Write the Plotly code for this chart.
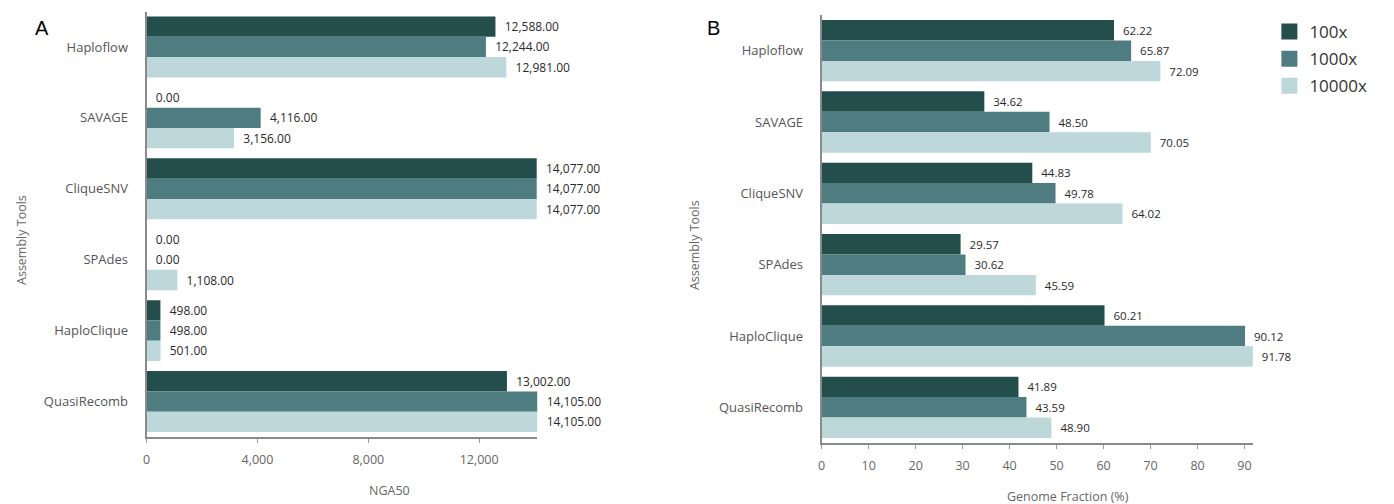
import plotly.graph_objects as go

tools = ["Haploflow", "SAVAGE", "CliqueSNV", "SPAdes", "HaploClique", "QuasiRecomb"]
series_names = ["100x", "1000x", "10000x"]
colors = ["#234e4b", "#4f7c80", "#bdd7db"]

nga50_100x = [12588, 0, 14077, 0, 498, 13002]
nga50_1000x = [12244, 4116, 14077, 0, 498, 14105]
nga50_10000x = [12981, 3156, 14077, 1108, 501, 14105]

gf_100x = [62.22, 34.62, 44.83, 29.57, 60.21, 41.89]
gf_1000x = [65.87, 48.50, 49.78, 30.62, 90.12, 43.59]
gf_10000x = [72.09, 70.05, 64.02, 45.59, 91.78, 48.90]

nga50_ticks = [0, 4000, 8000, 12000]
gf_ticks = [0, 10, 20, 30, 40, 50, 60, 70, 80, 90]

W, H = 1394, 504
OFF = 8  # page body margin
FONT = "Open Sans"
pad = "\u00a0\u00a0"

fig = go.Figure()

for name, col, vals in zip(series_names, colors, [nga50_100x, nga50_1000x, nga50_10000x]):
    fig.add_trace(go.Bar(
        y=tools, x=vals, orientation="h", name=name,
        marker=dict(color=col, line=dict(width=0)),
        texttemplate=pad + "%{x:,.2f}", textposition="outside",
        textfont=dict(size=12, color="#2a2a2a", family=FONT),
        cliponaxis=False, showlegend=False,
        xaxis="x", yaxis="y",
    ))

for name, col, vals in zip(series_names, colors, [gf_100x, gf_1000x, gf_10000x]):
    fig.add_trace(go.Bar(
        y=tools, x=vals, orientation="h", name=name,
        marker=dict(color=col, line=dict(width=0)),
        texttemplate=pad + "%{x:.2f}", textposition="outside",
        textfont=dict(size=11.5, color="#2a2a2a", family=FONT),
        cliponaxis=False, showlegend=False,
        xaxis="x2", yaxis="y2",
    ))

# legend entries
for name, col in zip(series_names, colors):
    fig.add_trace(go.Scatter(
        x=[None], y=[None], mode="markers", name=name, legendgroup=name,
        marker=dict(symbol="square", size=20, color=col),
        xaxis="x2", yaxis="y2", showlegend=True,
    ))

def px_x(p):
    return (p - OFF) / W

def px_y(p):
    return 1 - (p - OFF) / H

axis_common = dict(
    showline=True, linecolor="#8a8a8a", linewidth=2, showgrid=False, zeroline=False,
    ticks="outside", ticklen=4, tickcolor="#9a9a9a", ticklabelstandoff=6,
    tickfont=dict(size=12.5, color="#666666", family=FONT),
)
yaxis_common = dict(
    showline=True, linecolor="#8a8a8a", linewidth=2, showgrid=False, zeroline=False,
    ticks="", autorange="reversed", ticklabelstandoff=14,
    tickfont=dict(size=13, color="#555555", family=FONT),
)

fig.update_layout(
    width=W, height=H,
    margin=dict(l=0, r=0, t=0, b=0),
    paper_bgcolor="white", plot_bgcolor="white",
    barmode="group", bargap=0.14, bargroupgap=0,
    font=dict(family=FONT),
    xaxis=dict(domain=[px_x(143), px_x(535)], range=[0, 14105], tickvals=nga50_ticks,
               tickformat=",", anchor="y", **axis_common),
    yaxis=dict(domain=[px_y(437), px_y(11.5)], anchor="x", **yaxis_common),
    xaxis2=dict(domain=[px_x(820), px_x(1253)], range=[0, 91.9], tickvals=gf_ticks,
                anchor="y2", **axis_common),
    yaxis2=dict(domain=[px_y(443), px_y(15)], anchor="x2", **yaxis_common),
    legend=dict(x=px_x(1269), y=px_y(14), xanchor="left", yanchor="top",
                font=dict(size=17, color="#333333", family=FONT),
                tracegroupgap=2, itemsizing="trace", bgcolor="rgba(0,0,0,0)"),
)

def annot(text, x, y, size, color, family, angle=0):
    return dict(text=text, x=px_x(x), y=px_y(y), xref="paper", yref="paper",
                xanchor="center", yanchor="middle", textangle=angle,
                showarrow=False, font=dict(size=size, color=color, family=family))

ann = [
    annot("A", 38, 28, 20, "black", "Liberation Sans"),
    annot("B", 712, 28, 20, "black", "Liberation Sans"),
    annot("Assembly Tools", 18, 240, 12.5, "#666666", FONT, -90),
    annot("Assembly Tools", 692, 245, 12.5, "#666666", FONT, -90),
    annot("NGA50", 387, 490, 12.5, "#666666", FONT),
    annot("Genome Fraction (%)", 1067, 496, 12.5, "#666666", FONT),
]
fig.update_layout(annotations=ann)

fig.write_html("out.html")
